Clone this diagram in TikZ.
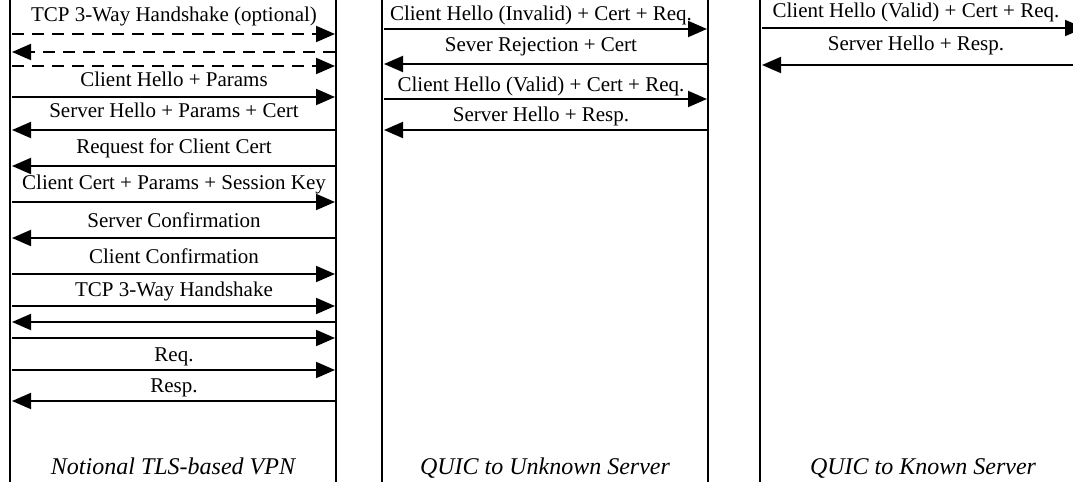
\documentclass[tikz,border=0pt]{standalone}
\usepackage{fontspec}
\setmainfont{Liberation Serif}
\usetikzlibrary{arrows.meta}

\tikzset{
    lifeline/.style={line width=1pt},
    msg/.style={line width=0.95pt,-{Triangle[length=9.5pt,width=8pt]}},
    optmsg/.style={msg,dash pattern=on 6pt off 4pt},
    lbl/.style={font=\fontsize{10.5}{12}\selectfont,inner sep=0pt,anchor=base},
    caption/.style={font=\fontsize{12}{14}\selectfont\itshape,inner sep=0pt,anchor=base}
}

\begin{document}
\begin{tikzpicture}[x=0.5pt,y=-0.5pt]

% page is the size of the picture.
\useasboundingbox (0,0) rectangle (1073,482);

% Draw the two lifelines of each panel.
%
\foreach \p/\l/\r in {vpn/10/336,unk/382/708,kno/760/1085} {
    \draw[lifeline]
        (\l,0) coordinate (\p L0) -- (\l,482) coordinate (\p L1);
    \draw[lifeline]
        (\r,0) coordinate (\p R0) -- (\r,482) coordinate (\p R1);
}

% Notional TLS-based VPN: messages.
% arrow y / from / to / style
\foreach \y/\f/\t/\st [count=\i] in {
    34/A/B/optmsg, 52/B/A/optmsg, 66/A/B/optmsg,
    97/A/B/msg, 130/B/A/msg, 166/B/A/msg, 202/A/B/msg,
    238/B/A/msg, 274/A/B/msg, 306/A/B/msg, 322/B/A/msg,
    338/A/B/msg, 370/A/B/msg, 401/B/A/msg} {

    % client side and server side of the message.
    \coordinate (vpnA\i) at (12,\y);
    \coordinate (vpnB\i) at (335,\y);
    \draw[\st] (vpn\f\i) -- (vpn\t\i);
}

% labels above the arrows (baseline y / text).
\foreach \b/\txt [count=\i] in {
    21/TCP 3-Way Handshake (optional),
    86/Client Hello + Params,
    118/Server Hello + Params + Cert,
    153/Request for Client Cert,
    189/Client Cert + Params + Session Key,
    227/Server Confirmation,
    263/Client Confirmation,
    296/TCP 3-Way Handshake,
    361/Req.,
    392/Resp.} {
    \node[lbl] (vpnT\i) at (174,\b) {\txt};
}

% QUIC to Unknown Server: messages.
\foreach \y/\f/\t/\b/\txt [count=\i] in {
    29/A/B/20/Client Hello (Invalid) + Cert + Req.,
    64/B/A/52/Sever Rejection + Cert,
    99/A/B/91/Client Hello (Valid) + Cert + Req.,
    130/B/A/121/Server Hello + Resp.} {

    \coordinate (unkA\i) at (384,\y);
    \coordinate (unkB\i) at (707,\y);
    \draw[msg] (unk\f\i) -- (unk\t\i);
    \node[lbl] (unkT\i) at (541,\b) {\txt};
}

% QUIC to Known Server: messages.
\foreach \y/\f/\t/\b/\txt [count=\i] in {
    28/A/B/18/Client Hello (Valid) + Cert + Req.,
    65/B/A/50/Server Hello + Resp.} {

    \coordinate (knoA\i) at (762,\y);
    \coordinate (knoB\i) at (1084,\y);
    \draw[msg] (kno\f\i) -- (kno\t\i);
    \node[lbl] (knoT\i) at (916,\b) {\txt};
}

% Panel captions.
\node[caption] (vpncap) at (173,474) {Notional TLS-based VPN};
\node[caption] (unkcap) at (545,474) {QUIC to Unknown Server};
\node[caption] (knocap) at (923,474) {QUIC to Known Server};

\end{tikzpicture}
\end{document}
